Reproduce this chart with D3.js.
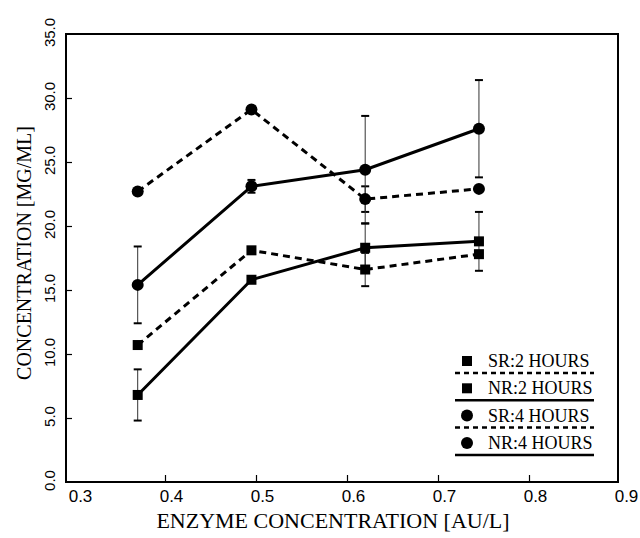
<!DOCTYPE html>
<html>
<head>
<meta charset="utf-8">
<script src="https://cdn.jsdelivr.net/npm/d3@7"></script>
<style>
  body { margin: 0; background: #fff; }
  #demo { width: 640px; height: 538px; }
</style>
</head>
<body>
<div id="demo"></div>
<script>
// data
var xValues = [0.37, 0.495, 0.62, 0.745];
var sr2 = [10.7, 18.1, 16.6, 17.8];
var sr2Err = [0, 0, 1.3, 0];
var nr2 = [6.8, 15.8, 18.3, 18.8];
var nr2Err = [2.0, 0, 1.9, 2.3];
var sr4 = [22.7, 29.1, 22.1, 22.9];
var sr4Err = [0, 0, 1.0, 0];
var nr4 = [15.4, 23.1, 24.4, 27.6];
var nr4Err = [3.0, 0.5, 4.2, 3.8];
var xTicks = [0.3, 0.4, 0.5, 0.6, 0.7, 0.8, 0.9];
var yTicks = [0, 5, 10, 15, 20, 25, 30, 35];
var legendLabels = ["SR:2 HOURS", "NR:2 HOURS", "SR:4 HOURS", "NR:4 HOURS"];

var series = [
  { name: legendLabels[0], values: sr2, err: sr2Err, shape: "square", dashed: true },
  { name: legendLabels[1], values: nr2, err: nr2Err, shape: "square", dashed: false },
  { name: legendLabels[2], values: sr4, err: sr4Err, shape: "circle", dashed: true },
  { name: legendLabels[3], values: nr4, err: nr4Err, shape: "circle", dashed: false }
];

var svg = d3.select("#demo").append("svg")
  .attr("width", 640)
  .attr("height", 538);

svg.append("rect").attr("width", 640).attr("height", 538).attr("fill", "#fff");

var x = d3.scaleLinear().domain([0.3, 0.9]).range([74, 620]);
var y = d3.scaleLinear().domain([0, 35]).range([482, 34]);

// frame
svg.append("rect")
  .attr("x", 66).attr("y", 34)
  .attr("width", 552).attr("height", 448)
  .attr("fill", "none")
  .attr("stroke", "#000")
  .attr("stroke-width", 2);

// x axis ticks (inward)
var xAxis = d3.axisBottom(x).tickValues(xTicks).tickSize(0).tickFormat(d3.format(".1f"));
var gx = svg.append("g").attr("transform", "translate(0,482)").call(xAxis);
gx.select(".domain").remove();
gx.selectAll("text")
  .attr("dx", 6)
  .attr("y", 20)
  .attr("dy", 0)
  .style("font-family", "'Liberation Sans', Arial, sans-serif")
  .style("font-size", "17px")
  .attr("fill", "#000");
gx.selectAll(".tick").filter(function(d) { return d > 0.3 && d < 0.9; })
  .append("line")
  .attr("y1", 0).attr("y2", -7)
  .attr("stroke", "#000").attr("stroke-width", 1.2);

// y axis
var yAxis = d3.axisLeft(y).tickValues(yTicks).tickSize(0).tickFormat(d3.format(".1f"));
var gy = svg.append("g").attr("transform", "translate(66,0)").call(yAxis);
gy.select(".domain").remove();
gy.selectAll("text")
  .attr("x", 0).attr("dy", 0)
  .attr("text-anchor", "middle")
  .attr("transform", "translate(-11,-2) rotate(-90)")
  .style("font-family", "'Liberation Sans', Arial, sans-serif")
  .style("font-size", "15px")
  .attr("fill", "#000");
gy.selectAll(".tick").filter(function(d) { return d > 0 && d < 35; })
  .append("line")
  .attr("x1", 0).attr("x2", 6)
  .attr("stroke", "#000").attr("stroke-width", 1.2);

// axis titles
svg.append("text")
  .attr("x", 333).attr("y", 528)
  .attr("text-anchor", "middle")
  .style("font-family", "'Liberation Serif', 'Times New Roman', serif")
  .style("font-size", "22px")
  .text("ENZYME CONCENTRATION [AU/L]");

svg.append("text")
  .attr("transform", "translate(31,253) rotate(-90)")
  .attr("text-anchor", "middle")
  .style("font-family", "'Liberation Serif', 'Times New Roman', serif")
  .style("font-size", "20px")
  .text("CONCENTRATION [MG/ML]");

// error bars
series.forEach(function(s) {
  var g = svg.append("g");
  var pts = xValues.map(function(d, i) { return { x: d, v: s.values[i], e: s.err[i] }; })
    .filter(function(p) { return p.e > 0; });
  g.selectAll("line.bar").data(pts).enter().append("line")
    .attr("x1", function(p) { return x(p.x); })
    .attr("x2", function(p) { return x(p.x); })
    .attr("y1", function(p) { return y(p.v - p.e); })
    .attr("y2", function(p) { return y(p.v + p.e); })
    .attr("stroke", "#333").attr("stroke-width", 1);
  [-1, 1].forEach(function(sign) {
    g.selectAll("line.cap" + sign).data(pts).enter().append("line")
      .attr("x1", function(p) { return x(p.x) - 4; })
      .attr("x2", function(p) { return x(p.x) + 4; })
      .attr("y1", function(p) { return y(p.v + sign * p.e); })
      .attr("y2", function(p) { return y(p.v + sign * p.e); })
      .attr("stroke", "#000").attr("stroke-width", 2);
  });
});

// lines
var line = d3.line()
  .x(function(d, i) { return x(xValues[i]); })
  .y(function(d) { return y(d); });

series.forEach(function(s) {
  svg.append("path")
    .datum(s.values)
    .attr("d", line)
    .attr("fill", "none")
    .attr("stroke", "#000")
    .attr("stroke-width", 3)
    .attr("stroke-dasharray", s.dashed ? "7,5" : null);
});

// markers
function drawMarker(sel, shape) {
  if (shape === "square") {
    sel.append("rect").attr("x", -5).attr("y", -5).attr("width", 10).attr("height", 10).attr("fill", "#000");
  } else {
    sel.append("circle").attr("r", 6).attr("fill", "#000");
  }
}

series.forEach(function(s) {
  var m = svg.selectAll(null)
    .data(s.values)
    .enter()
    .append("g")
    .attr("transform", function(d, i) { return "translate(" + x(xValues[i]) + "," + y(d) + ")"; });
  drawMarker(m, s.shape);
});

// legend
var legend = svg.selectAll(".legend")
  .data(series)
  .enter()
  .append("g")
  .attr("class", "legend")
  .attr("transform", function(d, i) { return "translate(0," + (i * 27.3) + ")"; });

legend.each(function(s) {
  var g = d3.select(this);
  var mk = g.append("g").attr("transform", "translate(467,361)");
  drawMarker(mk, s.shape);
  g.append("text")
    .attr("x", 488).attr("y", 367)
    .style("font-family", "'Liberation Serif', 'Times New Roman', serif")
    .style("font-size", "18px")
    .text(s.name);
  g.append("line")
    .attr("x1", 455).attr("x2", 594)
    .attr("y1", 373).attr("y2", 373)
    .attr("stroke", "#000")
    .attr("stroke-width", 2.5)
    .attr("stroke-dasharray", s.dashed ? "5,4" : null);
});
</script>
</body>
</html>
